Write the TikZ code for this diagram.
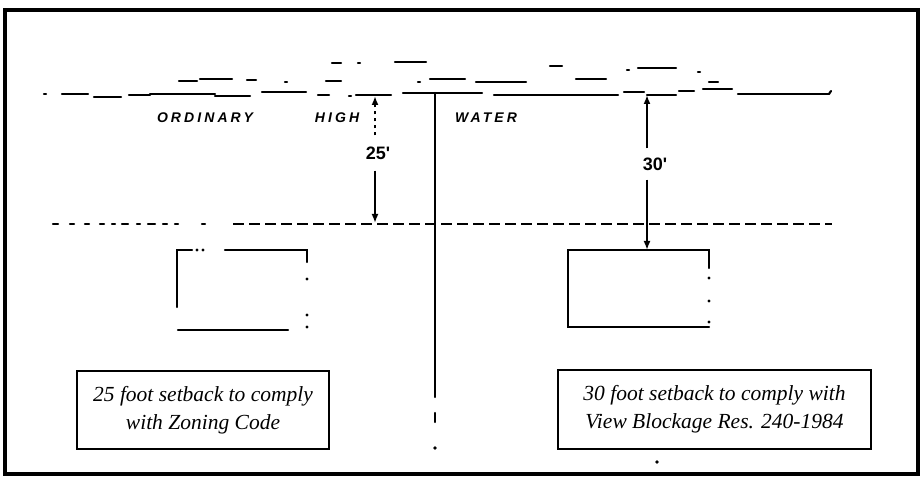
\documentclass[tikz,border=0pt]{standalone}
\usepackage{fontspec}
\setmainfont{Liberation Serif}
\newfontfamily\signfont[LetterSpace=22]{Liberation Sans}
\newfontfamily\dimfont{Liberation Sans}
\usetikzlibrary{arrows.meta}
\definecolor{ink}{HTML}{000000}
\tikzset{
  frame/.style={draw=ink, line width=3.2pt},
  hw/.style={draw=ink, line width=2.2pt, line cap=round},
  setline/.style={draw=ink, line width=2.2pt, dash pattern=on 11pt off 5pt},
  dim/.style={draw=ink, line width=2.2pt},
  house/.style={draw=ink, line width=2.2pt, line cap=round},
  hwlab/.style={text=ink, font=\signfont\bfseries\itshape\fontsize{14}{14}\selectfont},
  dimlab/.style={text=ink, inner sep=11pt, font=\dimfont\bfseries\fontsize{18}{18}\selectfont},
  note/.style={draw=ink, line width=1.4pt, align=center, inner sep=0pt,
    font=\fontsize{21.5}{28}\selectfont\itshape},
}
\begin{document}
\begin{tikzpicture}[x=1pt, y=-1pt]
  \useasboundingbox (0,0) rectangle (922,478);
  \draw[frame] (5,10) rectangle (918,474);
  % ordinary high water line
  \foreach \xa/\xb/\yy in {44/46/94, 62/88/94, 94/121/97, 129/150/95, 150/215/94,
      215/250/96, 262/306/92, 318/329/95, 349/351/96, 356/391/95, 403/482/93,
      494/618/95, 624/644/92, 647/676/95, 679/694/91, 703/732/89, 738/829/94}
    \draw[hw] (\xa,\yy) -- (\xb,\yy);
  \draw[hw] (829,94) -- (831,91);
  % water marks
  \foreach \xa/\xb/\yy in {332/341/63, 358/360/63, 395/426/62, 550/562/66,
      627/629/70, 638/676/68, 698/700/72, 179/197/81, 200/232/79, 247/256/80,
      285/287/82, 326/341/81, 418/420/82, 430/465/79, 476/526/82, 576/606/79,
      709/718/82}
    \draw[hw] (\xa,\yy) -- (\xb,\yy);
  \node[hwlab] (ord) at (205,118) {ORDINARY};
  \node[hwlab] (high) at (337,118) {HIGH};
  \node[hwlab] (water) at (486,118) {WATER};
  % setback line
  \foreach \xa/\xb in {53/58, 70/74, 85/89, 100/104, 112/115, 122/128, 137/140,
      148/155, 163/167, 175/178, 202/205}
    \draw[hw] (\xa,224) -- (\xb,224);
  \draw[setline] (233,224) -- (832,224);
  % property line
  \draw[hw] (435,93) -- (435,397);
  \draw[hw] (435,413) -- (435,422);
  \fill[ink] (435,448) circle (1.8);
  \fill[ink] (657,462) circle (1.8);
  % houses
  \draw[house] (177,307) -- (177,250) -- (192,250);
  \draw[house] (225,250) -- (307,250) -- (307,262);
  \draw[house] (178,330) -- (288,330);
  \foreach \xx/\yy in {197/250, 203/250, 307/279, 307/315, 307/327}
    \fill[ink] (\xx,\yy) circle (1.6);
  \draw[house] (709,268) -- (709,250) -- (568,250) -- (568,327) -- (709,327);
  \foreach \yy in {278, 301, 322}
    \fill[ink] (709,\yy) circle (1.6);
  % dimensions
  \coordinate (hw25) at (375,96);
  \coordinate (set25) at (375,223);
  \coordinate (hw30) at (647,95);
  \coordinate (house30) at (647,250);
  \node[dimlab] (lab25) at (378,153) {25'};
  \node[dimlab, inner sep=9pt] (lab30) at (655,164) {30'};
  \draw[dim, dash pattern=on 3pt off 4pt, -{Latex[length=9pt,width=7pt]}]
    (lab25.north -| hw25) -- (hw25);
  \draw[dim, -{Latex[length=9pt,width=7pt]}] (lab25.south -| set25) -- (set25);
  \draw[dim, -{Latex[length=9pt,width=7pt]}] (lab30.north -| hw30) -- (hw30);
  \draw[dim, -{Latex[length=9pt,width=7pt]}] (lab30.south -| house30) -- (house30);
  % notes
  \node[note, minimum width=252pt, minimum height=78pt] (note25) at (203,410)
    {25 foot setback to comply\\with Zoning Code};
  \node[note, minimum width=313pt, minimum height=79pt] (note30) at (714.5,409.5)
    {30 foot setback to comply with\\View Blockage Res. 240-1984};
\end{tikzpicture}
\end{document}
